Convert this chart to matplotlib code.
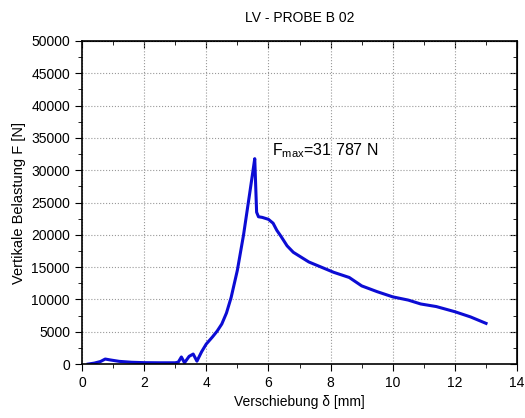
import matplotlib
matplotlib.use("Agg")
import matplotlib.pyplot as plt
from matplotlib.ticker import MultipleLocator

plt.rcParams['font.family'] = ['Liberation Sans', 'DejaVu Sans']
plt.rcParams['mathtext.fontset'] = 'custom'
plt.rcParams['mathtext.rm'] = 'Liberation Sans'

# displacement [mm] and load [N]
weg = [0.2, 0.4, 0.6, 0.75, 0.9, 1.2, 1.6, 2.0, 2.5, 3.0, 3.1, 3.2, 3.3, 3.45, 3.58, 3.7,
       3.85, 4.0, 4.2, 4.35, 4.5, 4.65, 4.8, 5.0, 5.2, 5.4, 5.5, 5.56, 5.62, 5.68, 5.8, 6.0,
       6.15, 6.27, 6.4, 6.6, 6.8, 7.0, 7.3, 7.6, 7.9, 8.1, 8.6, 9.0, 9.5, 10.0, 10.5,
       10.9, 11.4, 12.0, 12.5, 13.0]
kraft = [0, 150, 400, 780, 650, 420, 280, 220, 200, 200, 300, 1100, 200, 1200, 1550, 450,
         1900, 3100, 4200, 5100, 6200, 7900, 10300, 14500, 20000, 26500, 29800, 31787, 23500, 22800, 22700, 22400,
         21800, 20700, 19800, 18300, 17300, 16700, 15800, 15200, 14600, 14200, 13400, 12100, 11200, 10400, 9900,
         9300, 8900, 8100, 7300, 6300]

fig = plt.figure(figsize=(5.25, 4.18), dpi=100)
ax = fig.add_axes([0.156, 0.129, 0.829, 0.773])

ax.plot(weg, kraft, color='#0c0cd4', lw=2.2)

ax.set_xlim(0, 14)
ax.set_ylim(0, 50000)
ax.xaxis.set_major_locator(MultipleLocator(2))
ax.xaxis.set_minor_locator(MultipleLocator(1))
ax.yaxis.set_major_locator(MultipleLocator(5000))
ax.yaxis.set_minor_locator(MultipleLocator(2500))
ax.grid(True, which='major', color='#999999', linestyle=':', linewidth=0.8)

ax.tick_params(which='both', direction='out', labelsize=10, top=False, right=False)
ax.tick_params(which='major', length=5)
ax.tick_params(which='minor', length=3)
# mirrored ticks on top and right, pointing inwards
sx = ax.secondary_xaxis('top')
sx.xaxis.set_major_locator(MultipleLocator(2))
sx.xaxis.set_minor_locator(MultipleLocator(1))
sx.tick_params(which='both', direction='in', labeltop=False)
sx.tick_params(which='major', length=5)
sx.tick_params(which='minor', length=3)
sy = ax.secondary_yaxis('right')
sy.yaxis.set_major_locator(MultipleLocator(5000))
sy.yaxis.set_minor_locator(MultipleLocator(2500))
sy.tick_params(which='both', direction='in', labelright=False)
sy.tick_params(which='major', length=5)
sy.tick_params(which='minor', length=3)

for s in ax.spines.values():
    s.set_linewidth(1.2)

ax.set_title("LV - PROBE B 02", fontsize=10, pad=14)
ax.set_xlabel("Verschiebung δ [mm]", fontsize=10)
ax.set_ylabel("Vertikale Belastung F [N]", fontsize=10.5)

ax.text(6.1, 32300, r'F$_{\mathrm{max}}$=31 787 N', fontsize=11.5)

fig.savefig("out.png", dpi=100)
